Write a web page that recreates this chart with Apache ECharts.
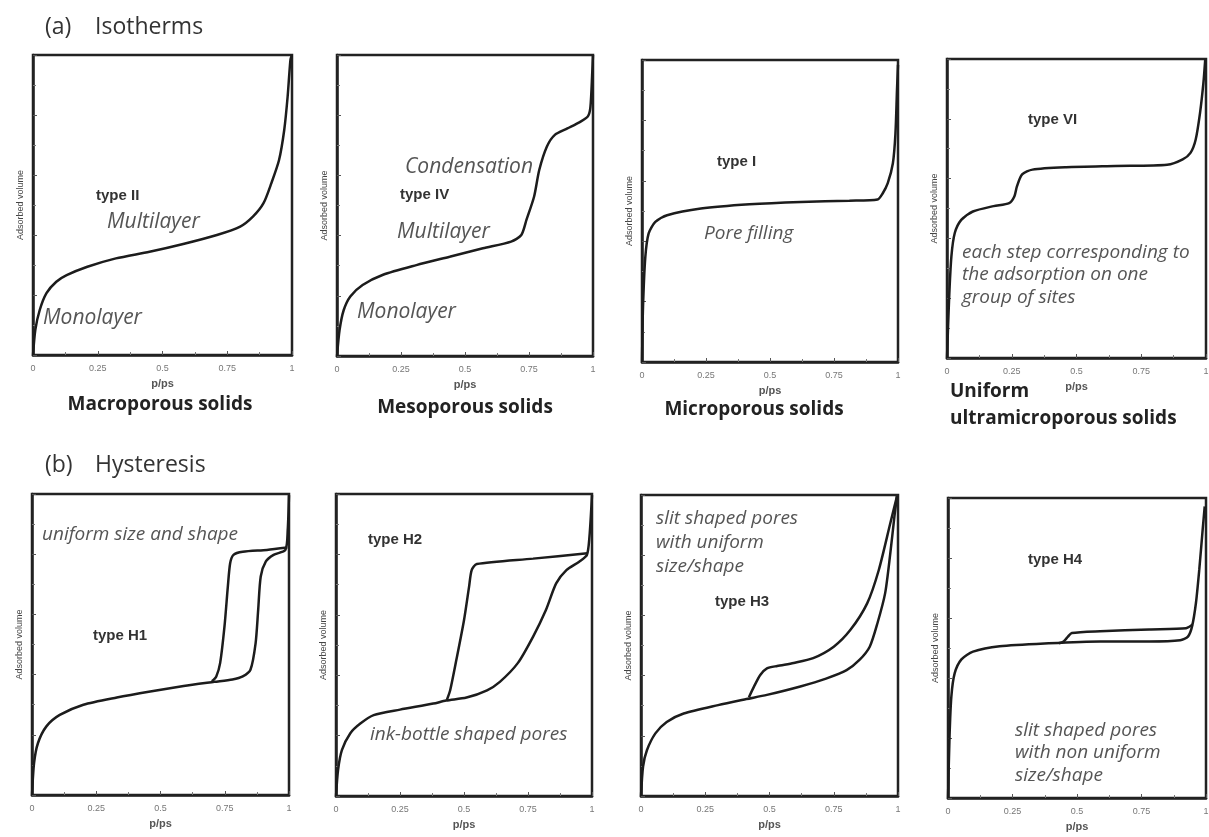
<!DOCTYPE html>
<html>
<head>
<meta charset="utf-8">
<script src="https://cdn.jsdelivr.net/npm/echarts@6/dist/echarts.min.js"></script>
<style>html,body{margin:0;padding:0;background:#fff;}#c{width:1209px;height:837px;}</style>
</head>
<body>
<div id="c"></div>
<script>
// ---- data: [relative pressure p/ps, adsorbed volume (arb. units 0..5)] ----
const xTickLabels = ['0', '0.25', '0.5', '0.75', '1'];

const typeII = [[0,0],[0.009,0.42],[0.026,0.75],[0.052,1.03],[0.09,1.22],[0.13,1.33],[0.21,1.47],[0.32,1.61],[0.45,1.72],[0.58,1.85],[0.71,2.0],[0.80,2.14],[0.85,2.31],[0.89,2.53],[0.92,2.86],[0.95,3.25],[0.97,3.75],[0.983,4.3],[0.994,4.92],[1.0,5.0]];

const typeIV = [[0,0],[0.01,0.43],[0.026,0.76],[0.052,0.99],[0.10,1.18],[0.18,1.35],[0.31,1.51],[0.44,1.65],[0.57,1.79],[0.68,1.90],[0.72,2.01],[0.74,2.26],[0.77,2.65],[0.79,3.09],[0.82,3.48],[0.85,3.67],[0.90,3.78],[0.95,3.89],[0.98,3.98],[0.99,4.14],[0.997,4.7],[1.0,5.0]];

const typeI = [[0,0],[0.004,0.91],[0.013,1.74],[0.026,2.13],[0.052,2.32],[0.098,2.43],[0.23,2.54],[0.42,2.61],[0.62,2.65],[0.81,2.67],[0.92,2.69],[0.94,2.79],[0.96,2.96],[0.98,3.29],[0.99,3.78],[0.996,4.5],[1.0,4.92]];

const typeVI = [[0,0],[0.008,0.98],[0.017,1.70],[0.03,2.09],[0.055,2.31],[0.10,2.45],[0.18,2.54],[0.24,2.59],[0.26,2.70],[0.27,2.87],[0.29,3.07],[0.33,3.15],[0.46,3.19],[0.65,3.21],[0.85,3.23],[0.91,3.32],[0.94,3.43],[0.96,3.65],[0.977,4.10],[0.99,4.6],[0.997,4.99]];

const h1Ads = [[0,0],[0.008,0.53],[0.023,0.86],[0.056,1.14],[0.108,1.33],[0.20,1.50],[0.33,1.62],[0.46,1.72],[0.59,1.81],[0.71,1.88],[0.78,1.92],[0.82,1.97],[0.85,2.08],[0.87,2.52],[0.88,3.07],[0.89,3.63],[0.91,3.88],[0.94,3.99],[0.986,4.07],[0.995,4.4],[1.0,4.98]];
const h1Des = [[0.993,4.11],[0.914,4.07],[0.82,4.04],[0.784,3.99],[0.771,3.85],[0.762,3.46],[0.749,2.80],[0.732,2.19],[0.717,1.97],[0.70,1.89]];

const h2Ads = [[0,0],[0.008,0.43],[0.023,0.76],[0.056,1.04],[0.095,1.20],[0.147,1.34],[0.25,1.43],[0.38,1.53],[0.43,1.58],[0.51,1.63],[0.59,1.75],[0.64,1.89],[0.71,2.20],[0.77,2.64],[0.82,3.08],[0.86,3.52],[0.90,3.74],[0.95,3.88],[0.98,3.99],[0.99,4.29],[1.0,4.98]];
const h2Des = [[0.982,4.02],[0.77,3.93],[0.55,3.84],[0.53,3.74],[0.52,3.47],[0.50,2.91],[0.47,2.25],[0.446,1.75],[0.433,1.59]];

const h3Ads = [[0,0],[0.008,0.49],[0.023,0.76],[0.056,1.04],[0.10,1.23],[0.166,1.37],[0.30,1.51],[0.41,1.61],[0.49,1.68],[0.62,1.82],[0.72,1.95],[0.80,2.09],[0.85,2.26],[0.89,2.48],[0.92,2.87],[0.95,3.37],[0.97,4.03],[0.986,4.64],[0.996,4.98]];
const h3Des = [[0.996,4.98],[0.97,4.53],[0.925,3.75],[0.88,3.20],[0.815,2.76],[0.75,2.48],[0.67,2.29],[0.594,2.21],[0.53,2.16],[0.49,2.12],[0.464,2.01],[0.44,1.82],[0.42,1.64]];

const h4Ads = [[0,0],[0.006,1.03],[0.013,1.69],[0.026,2.08],[0.052,2.31],[0.097,2.44],[0.20,2.53],[0.39,2.58],[0.59,2.61],[0.78,2.61],[0.90,2.63],[0.93,2.69],[0.946,2.86],[0.961,3.25],[0.974,3.81],[0.987,4.47],[0.995,4.86]];
const h4Des = [[0.948,2.89],[0.923,2.83],[0.78,2.81],[0.59,2.78],[0.48,2.75],[0.465,2.69],[0.448,2.61],[0.43,2.58]];

// ---- layout ----
const grids = [
  {left:33, top:55, width:259, height:300},
  {left:337, top:55, width:256, height:301},
  {left:642, top:60, width:256, height:302},
  {left:947, top:59, width:259, height:299},
  {left:32, top:494, width:257, height:301},
  {left:336, top:494, width:256, height:302},
  {left:641, top:495, width:257, height:301},
  {left:948, top:498, width:258, height:300}
];
const panelSeries = [[typeII],[typeIV],[typeI],[typeVI],[h1Ads,h1Des],[h2Ads,h2Des],[h3Ads,h3Des],[h4Ads,h4Des]];

const LINE = '#1c1c1c';
const xAxes = grids.map((g,i)=>({
  gridIndex:i, type:'value', min:0, max:1, interval:0.25,
  name:'p/ps', nameLocation:'middle', nameGap:23,
  nameTextStyle:{fontSize:11, color:'#555', fontFamily:'Liberation Sans', fontWeight:'bold'},
  axisLine:{show:true, lineStyle:{color:'#222', width:2.5}},
  axisTick:{show:true, inside:true, length:4, lineStyle:{color:'#555', width:1}},
  minorTick:{show:true, splitNumber:2, length:3, lineStyle:{color:'#777'}},
  axisLabel:{fontSize:9, color:'#777', margin:9, fontFamily:'Liberation Sans',
    formatter:(v)=>xTickLabels[Math.round(v*4)]},
  splitLine:{show:false}
}));
const yAxes = grids.map((g,i)=>({
  gridIndex:i, type:'value', min:0, max:5, interval:1,
  name:'Adsorbed volume', nameLocation:'middle', nameGap:8, nameRotate:90,
  nameTextStyle:{fontSize:9, color:'#444', fontFamily:'Liberation Sans'},
  axisLine:{show:true, lineStyle:{color:'#222', width:2.5}},
  axisTick:{show:true, inside:true, length:4, lineStyle:{color:'#555', width:1}},
  minorTick:{show:true, splitNumber:2, length:3, lineStyle:{color:'#777'}},
  axisLabel:{show:false},
  splitLine:{show:false}
}));
const series = [];
panelSeries.forEach((arr,i)=>arr.forEach(d=>series.push({
  type:'line', xAxisIndex:i, yAxisIndex:i, data:d, showSymbol:false, smooth:0.25,
  lineStyle:{color:LINE, width:2.5}, silent:true, z:3
})));

// ---- texts ----
const IT = (s)=>'italic '+s+'px "Open Sans"';
const BT = 'bold 19px "Open Sans"';
const TY = 'bold 15px "Liberation Sans"';
function txt(x,y,text,font,fill,align,lh){
  return {type:'text', x:x, y:y, silent:true, z:10,
    style:{text:text, font:font, fill:fill, align:align||'left', verticalAlign:'middle', textAlign:align||'left', textVerticalAlign:'middle', lineHeight:lh||23}};
}
const ital = '#555';
const graphics = [
  txt(45,27,'(a)','23px "Open Sans"','#333'),
  txt(95,27,'Isotherms','23px "Open Sans"','#333'),
  txt(45,465,'(b)','23px "Open Sans"','#333'),
  txt(95,465,'Hysteresis','23px "Open Sans"','#333'),
  // panel 1
  txt(96,196,'type II',TY,'#333'),
  txt(107,222,'Multilayer',IT(21),ital),
  txt(43,318,'Monolayer',IT(21),ital),
  txt(160,405,'Macroporous solids',BT,'#222','center'),
  // panel 2
  txt(405,167,'Condensation',IT(21),ital),
  txt(400,195,'type IV',TY,'#333'),
  txt(397,232,'Multilayer',IT(21),ital),
  txt(357,312,'Monolayer',IT(21),ital),
  txt(465,408,'Mesoporous solids',BT,'#222','center'),
  // panel 3
  txt(717,162,'type I',TY,'#333'),
  txt(704,234,'Pore filling',IT(19),ital),
  txt(754,410,'Microporous solids',BT,'#222','center'),
  // panel 4
  txt(1028,120,'type VI',TY,'#333'),
  txt(962,275,'each step corresponding to\nthe adsorption on one\ngroup of sites',IT(19),ital,'left',22.5),
  txt(950,392,'Uniform',BT,'#222'),
  txt(950,419,'ultramicroporous solids',BT,'#222'),
  // panel 5
  txt(42,535,'uniform size and shape',IT(19),ital),
  txt(93,636,'type H1',TY,'#333'),
  // panel 6
  txt(368,540,'type H2',TY,'#333'),
  txt(370,735,'ink-bottle shaped pores',IT(19),ital),
  // panel 7
  txt(656,543,'slit shaped pores\nwith uniform\nsize/shape',IT(19),ital,'left',24),
  txt(715,602,'type H3',TY,'#333'),
  // panel 8
  txt(1028,560,'type H4',TY,'#333'),
  txt(1015,753,'slit shaped pores\nwith non uniform\nsize/shape',IT(19),ital,'left',22.5)
];

const chart = echarts.init(document.getElementById('c'), null, {renderer:'canvas'});
chart.setOption({
  backgroundColor:'#fff',
  animation:false,
  grid: grids.map(g=>Object.assign({show:true, borderColor:'#222', borderWidth:2.5, containLabel:false, outerBoundsMode:'none'}, g)),
  xAxis: xAxes,
  yAxis: yAxes,
  series: series,
  graphic: graphics
});
</script>
</body>
</html>
